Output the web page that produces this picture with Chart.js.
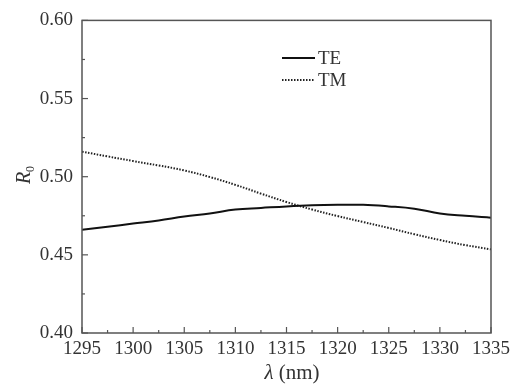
<!DOCTYPE html>
<html><head><meta charset="utf-8">
<script src="https://cdn.jsdelivr.net/npm/chart.js@4.4.1/dist/chart.umd.min.js"></script>
<style>html,body{margin:0;padding:0;background:#fff}#wrap{width:521px;height:387px}</style>
</head><body><div id="wrap"><canvas id="c" width="521" height="387"></canvas></div>
<script>
const wavelengths = [1295,1297.5,1300,1302.5,1305,1307.5,1310,1312.5,1315,1317.5,1320,1322.5,1325,1327.5,1330,1332.5,1335];
const teValues = [0.466,0.468,0.470,0.472,0.4745,0.4765,0.479,0.4800,0.4810,0.4817,0.4820,0.4820,0.4810,0.4795,0.4765,0.4750,0.4738];
const tmValues = [0.5160,0.5130,0.5100,0.5072,0.5040,0.4998,0.4948,0.4892,0.4838,0.4790,0.4748,0.4710,0.4672,0.4632,0.4595,0.4562,0.4535];
const xTicks = [1295,1300,1305,1310,1315,1320,1325,1330,1335];
const yTicks = [0.40,0.45,0.50,0.55,0.60];
const seriesNames = ['TE','TM'];

const FONT = '"Liberation Serif", "Times New Roman", serif';
const AXIS = '#555';

const decor = {
  id:'decor',
  afterDraw(chart){
    const ctx = chart.ctx, a = chart.chartArea;
    const xs = chart.scales.x, ys = chart.scales.y;
    ctx.save();
    ctx.strokeStyle = AXIS; ctx.lineWidth = 1.5;
    ctx.strokeRect(a.left, a.top, a.right-a.left, a.bottom-a.top);
    ctx.lineWidth = 1.2;
    for (let v = xTicks[0]; v <= xTicks[xTicks.length-1]+0.01; v += 2.5) {
      const px = xs.getPixelForValue(v);
      const major = Math.abs((v - xTicks[0]) % 5) < 0.01;
      ctx.beginPath(); ctx.moveTo(px, a.bottom); ctx.lineTo(px, a.bottom - (major?6:3)); ctx.stroke();
    }
    for (let v = yTicks[0]; v <= yTicks[yTicks.length-1]+0.001; v += 0.025) {
      const py = ys.getPixelForValue(v);
      const major = Math.abs(Math.round(v/0.025)%2) === 0;
      ctx.beginPath(); ctx.moveTo(a.left, py); ctx.lineTo(a.left + (major?6:3), py); ctx.stroke();
    }
    // legend
    const lx = a.left + 200, ly = 58;
    chart.data.datasets.forEach((ds,i)=>{
      const y = ly + i*22;
      ctx.strokeStyle = ds.borderColor; ctx.lineWidth = ds.borderWidth;
      ctx.setLineDash(ds.borderDash || []);
      ctx.beginPath(); ctx.moveTo(lx, y); ctx.lineTo(lx+33, y); ctx.stroke();
      ctx.setLineDash([]);
      ctx.fillStyle = '#333'; ctx.font = '19px ' + FONT; ctx.textBaseline = 'middle'; ctx.textAlign='left';
      ctx.fillText(ds.label, lx+36, y+1);
    });
    // y title R0
    ctx.save();
    ctx.translate(24, 176);
    ctx.rotate(-Math.PI/2);
    ctx.fillStyle = '#333';
    ctx.textBaseline = 'alphabetic'; ctx.textAlign = 'left';
    ctx.font = 'italic 20px ' + FONT;
    ctx.fillText('R', -8, 6);
    ctx.font = '12px ' + FONT;
    ctx.fillText('0', 4, 10);
    ctx.restore();
    // x title
    ctx.fillStyle = '#333'; ctx.textBaseline='alphabetic'; ctx.textAlign='left';
    ctx.font = 'italic 21px ' + FONT;
    const lw = ctx.measureText('λ').width;
    ctx.font = '21px ' + FONT;
    const rest = ' (nm)';
    const rw = ctx.measureText(rest).width;
    const start = 292 - (lw+rw)/2;
    ctx.font = 'italic 21px ' + FONT;
    ctx.fillText('λ', start, 379);
    ctx.font = '21px ' + FONT;
    ctx.fillText(rest, start+lw, 379);
    ctx.restore();
  }
};

new Chart(document.getElementById('c'), {
  type:'line',
  data:{
    datasets:[
      {label:seriesNames[0], data:wavelengths.map((x,i)=>({x, y:teValues[i]})), borderColor:'#111', borderWidth:2, pointRadius:0, tension:0.4, fill:false},
      {label:seriesNames[1], data:wavelengths.map((x,i)=>({x, y:tmValues[i]})), borderColor:'#222', borderWidth:2, borderDash:[1.5,1.5], pointRadius:0, tension:0.4, fill:false}
    ]
  },
  options:{
    responsive:false, animation:false,
    layout:{padding:{left:0,right:30,top:17,bottom:0}},
    plugins:{legend:{display:false}, tooltip:{enabled:false}},
    scales:{
      x:{type:'linear', min:1295, max:1335,
        afterBuildTicks(s){ s.ticks = xTicks.map(v=>({value:v})); },
        afterFit(s){ s.height = 54; },
        grid:{display:false, drawTicks:false}, border:{display:false},
        ticks:{font:{family:FONT,size:19}, color:'#333', padding:5, maxRotation:0, autoSkip:false, callback:v=>String(v)}
      },
      y:{type:'linear', min:0.40, max:0.60,
        afterBuildTicks(s){ s.ticks = yTicks.map(v=>({value:v})); },
        afterFit(s){ s.width = 82; },
        grid:{display:false, drawTicks:false}, border:{display:false},
        ticks:{font:{family:FONT,size:19}, color:'#333', padding:9, callback:v=>Number(v).toFixed(2)}
      }
    }
  },
  plugins:[decor]
});
</script></body></html>
